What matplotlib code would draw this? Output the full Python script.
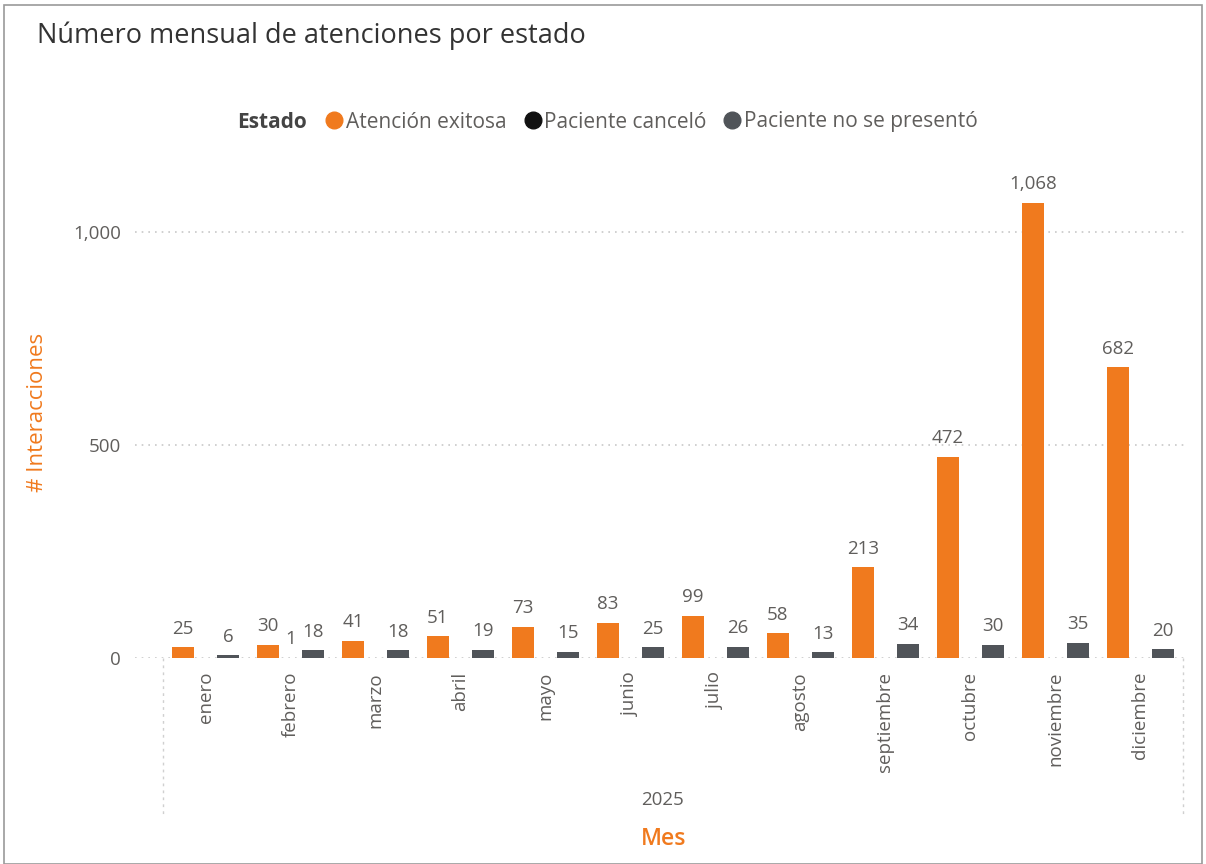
import matplotlib
matplotlib.use("Agg")
import matplotlib.pyplot as plt
from matplotlib.patches import Rectangle
from matplotlib.lines import Line2D
from matplotlib.ticker import FuncFormatter

plt.rcParams['font.family'] = ['Open Sans', 'DejaVu Sans']

months = ["enero", "febrero", "marzo", "abril", "mayo", "junio", "julio",
          "agosto", "septiembre", "octubre", "noviembre", "diciembre"]
exitosa = [25, 30, 41, 51, 73, 83, 99, 58, 213, 472, 1068, 682]
cancelo = [None, 1, None, None, None, None, None, None, None, None, None, None]
no_presento = [6, 18, 18, 19, 15, 25, 26, 13, 34, 30, 35, 20]
series_names = ["Atención exitosa", "Paciente canceló", "Paciente no se presentó"]
year_label = "2025"

C_ORANGE = "#F07A1E"
C_BLACK = "#111111"
C_GRAY = "#505459"
C_TEXT = "#605E5C"

W, H = 1206, 864
fig = plt.figure(figsize=(W / 100, H / 100), dpi=100)
fig.patch.set_facecolor("white")

ax_left, ax_right = 135, 1185
ax_bottom, ax_top = 658, 189
ax = fig.add_axes([ax_left / W, 1 - ax_bottom / H, (ax_right - ax_left) / W, (ax_bottom - ax_top) / H])

cat_px = 85.0
x_lo = -0.5 - (163 - ax_left) / cat_px
x_hi = 11.5 + (ax_right - 1183) / cat_px
ax.set_xlim(x_lo, x_hi)
ymax = 1000 * (ax_bottom - ax_top) / (658 - 232)
ax.set_ylim(0, ymax)

bw = 0.26
off = 0.265
xs = list(range(len(months)))
for series, color, dx in [(exitosa, C_ORANGE, -off), (cancelo, C_BLACK, 0.0), (no_presento, C_GRAY, off)]:
    for i, v in enumerate(series):
        if v is None:
            continue
        ax.bar(i + dx, v, width=bw, color=color, zorder=3)
        ax.annotate(f"{v:,}", (i + dx, v), xytext=(0, 7), textcoords="offset points",
                    ha="center", va="bottom", fontsize=13.5, color=C_TEXT)

for s in ax.spines.values():
    s.set_visible(False)
ax.set_yticks([0, 500, 1000])
ax.yaxis.set_major_formatter(FuncFormatter(lambda v, p: f"{int(v):,}"))
ax.tick_params(axis="y", length=0, labelsize=13.5, labelcolor=C_TEXT, pad=10)
ax.grid(axis="y", linestyle=(0, (1, 3)), color="#C8C8C8", linewidth=1.2, zorder=0)
ax.set_xticks(xs)
ax.set_xticklabels(months, rotation=90, fontsize=13.5, color=C_TEXT, va="top", ha="center")
ax.tick_params(axis="x", length=0, pad=10)

ax.set_ylabel("# Interacciones", fontsize=16, color=C_ORANGE)
ax.yaxis.set_label_coords((48 - ax_left) / (ax_right - ax_left), (ax_bottom - 412) / (ax_bottom - ax_top))

for xb in (-0.5, 11.5):
    ax.plot([xb, xb], [0, -370], color="#D0D0D0", linestyle=(0, (2, 3)), linewidth=1,
            clip_on=False, zorder=1)

fig.text(663 / W, 1 - 800 / H, year_label, ha="center", va="center", fontsize=13.5, color=C_TEXT)
fig.text(664 / W, 1 - 839 / H, "Mes", ha="center", va="center", fontsize=16.5, color=C_ORANGE,
         fontweight="semibold")

fig.text(37 / W, 1 - 36 / H, "Número mensual de atenciones por estado", ha="left", va="center",
         fontsize=19.5, color="#333333")

leg_y = 1 - 122 / H
fig.text(237 / W, leg_y, "Estado", ha="left", va="center", fontsize=15, fontweight="bold", color="#444444")
handles = [Line2D([0], [0], marker="o", linestyle="none", markersize=12, markerfacecolor=c,
                  markeredgecolor=c) for c in (C_ORANGE, C_BLACK, C_GRAY)]
leg = fig.legend(handles, series_names, loc="center left", bbox_to_anchor=(324 / W, leg_y),
                 ncol=3, frameon=False, fontsize=15, handletextpad=0.05, columnspacing=0.75,
                 handlelength=1.0, borderaxespad=0, borderpad=0)
for t in leg.get_texts():
    t.set_color(C_TEXT)

fig.add_artist(Rectangle((4 / W, 0), (W - 8) / W, 1 - 5 / H, transform=fig.transFigure,
                         fill=False, edgecolor="#9A9A9A", linewidth=1.2))

fig.savefig("out.png", dpi=100, facecolor="white")
